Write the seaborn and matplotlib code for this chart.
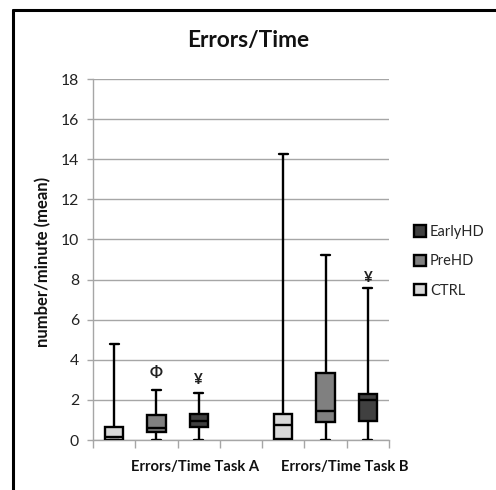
import matplotlib
matplotlib.use("Agg")
import matplotlib.pyplot as plt
from matplotlib.lines import Line2D
import pandas as pd
import seaborn as sns

tasks = ["Errors/Time Task A", "Errors/Time Task B"]
groups = ["CTRL", "PreHD", "EarlyHD"]

# five-number summaries per box: min, Q1, median, Q3, max (number/minute)
ctrl_a = [0.0, 0.02, 0.15, 0.63, 4.77]
pre_a = [0.0, 0.38, 0.60, 1.23, 2.51]
early_a = [0.0, 0.63, 0.95, 1.30, 2.34]
ctrl_b = [0.0, 0.05, 0.75, 1.30, 14.28]
pre_b = [0.0, 0.88, 1.46, 3.34, 9.21]
early_b = [0.0, 0.95, 1.99, 2.28, 7.59]

# significance markers: (x position, y, symbol)
marks_x = [0.0, 0.25, 1.25]
marks_y = [3.35, 3.0, 8.1]
marks_s = ["Φ", "¥", "¥"]

palette = {"CTRL": "#d9d9d9", "PreHD": "#808080", "EarlyHD": "#404040"}

summaries = {tasks[0]: [ctrl_a, pre_a, early_a], tasks[1]: [ctrl_b, pre_b, early_b]}
rows = []
for task in tasks:
    for grp, five in zip(groups, summaries[task]):
        for v in five:
            rows.append({"task": task, "group": grp, "value": v})
df = pd.DataFrame(rows)

sns.set_theme(style="white")
plt.rcParams["font.family"] = ["Lato", "DejaVu Sans"]

W, H = 496, 490
fig = plt.figure(figsize=(W / 100, H / 100), dpi=100)
fig.patch.set_facecolor("white")
ax = fig.add_axes([93 / W, 1 - 440 / H, (389 - 93) / W, (440 - 79) / H])

sns.boxplot(data=df, x="task", y="value", hue="group", order=tasks,
            hue_order=groups, palette=palette, whis=(0, 100), width=0.75,
            gap=0.57, linewidth=1.7, linecolor="black", saturation=1,
            ax=ax, zorder=3)

ax.set_xlim(-0.375, 1.375)
ax.set_ylim(0, 18)
ax.set_yticks(range(0, 19, 2))
ax.yaxis.grid(True, color="#a6a6a6", linewidth=1)
ax.set_axisbelow(True)
for side in ("top", "right"):
    ax.spines[side].set_visible(False)
for side in ("left", "bottom"):
    ax.spines[side].set_color("#a6a6a6")
    ax.spines[side].set_linewidth(1)

bounds = [-0.375 + 0.25 * i for i in range(8)]
ax.set_xticks(bounds)
ax.set_xticklabels([""] * len(bounds))
ax.tick_params(axis="x", direction="out", length=6, color="#a6a6a6", width=1, bottom=True)
ax.tick_params(axis="y", direction="out", length=4, color="#a6a6a6", width=1,
               left=True, labelsize=11.3, pad=6, labelcolor="#222222")
ax.set_xlabel("")

tr = ax.get_xaxis_transform()
for xpos, label in zip([0.23, 1.115], tasks):
    ax.text(xpos, -0.075, label, transform=tr, ha="center", va="center",
            fontsize=10.6, fontweight="bold", color="#111111")

ax.set_ylabel("number/minute (mean)", fontsize=12, fontweight="bold", color="#111111")
ax.yaxis.set_label_coords(-0.142, 0.494)

for xm, ym, s in zip(marks_x, marks_y, marks_s):
    ax.text(xm, ym, s, ha="center", va="center", fontsize=11,
            fontweight="bold", color="#222222", zorder=4)

handles, labels = ax.get_legend_handles_labels()
ax.legend_.remove()
fig.legend(handles[::-1], labels[::-1], loc="upper left",
           bbox_to_anchor=(414 / W, 1 - 225 / H), frameon=False,
           fontsize=10.5, handlelength=0.8, handleheight=0.8,
           handletextpad=0.3, labelspacing=1.05, borderpad=0, borderaxespad=0)

fig.text(248 / W, 1 - 40 / H, "Errors/Time", ha="center", va="center",
         fontsize=16.3, fontweight="bold", color="#111111")

# outer frame on the left and top edges
fig.add_artist(Line2D([13 / W, 13 / W], [0, 1 - 10 / H], transform=fig.transFigure,
                      color="black", linewidth=2.2))
fig.add_artist(Line2D([13 / W, 1], [1 - 10 / H, 1 - 10 / H], transform=fig.transFigure,
                      color="black", linewidth=2.2))

fig.savefig("out.png", dpi=100)
